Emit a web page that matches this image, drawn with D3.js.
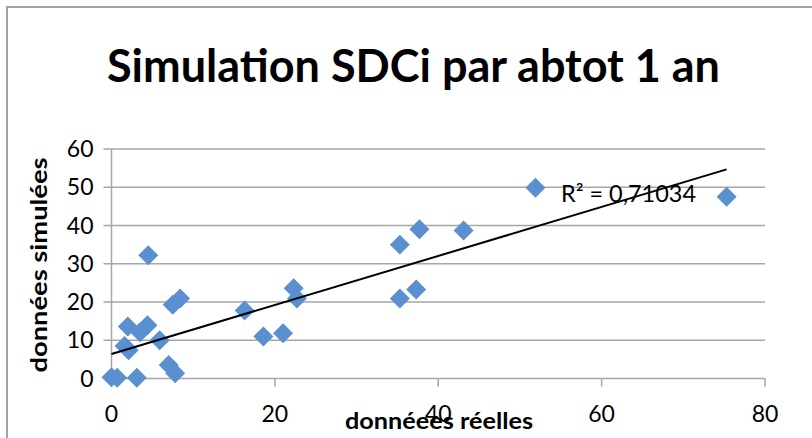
<!DOCTYPE html>
<html>
<head>
<meta charset="utf-8">
<script src="https://cdn.jsdelivr.net/npm/d3@7"></script>
<style>
  body { margin: 0; background: #fff; }
  text { font-family: Lato, "Open Sans", sans-serif; fill: #000; }
</style>
</head>
<body>
<div id="chart"></div>
<script>
// values
var realValues = [0, 0.7, 3.1, 4.5, 2.0, 4.4, 3.5, 1.6, 2.1, 5.9, 7.0, 7.8, 7.5, 8.4,
                  16.3, 18.6, 21.0, 22.3, 22.7, 35.3, 37.7, 43.1, 35.3, 37.3, 51.9, 75.3];
var simValues  = [0.3, 0.2, 0.2, 32.2, 13.6, 13.9, 12.1, 8.5, 7.4, 10.0, 3.5, 1.4, 19.3, 20.9,
                  17.8, 11.0, 11.8, 23.6, 20.9, 35.0, 39.0, 38.7, 20.9, 23.3, 49.9, 47.5];
var xTicks = [0, 20, 40, 60, 80];
var yTicks = [0, 10, 20, 30, 40, 50, 60];
var trendSlope = 0.641, trendIntercept = 6.4;
var trendLabel = "R² = 0,71034";
var titleText = "Simulation SDCi par abtot 1 an";
var xTitle = "donnéees réelles";
var yTitle = "données simulées";

var width = 812, height = 438;

var svg = d3.select("#chart").append("svg")
    .attr("width", width)
    .attr("height", height);

// chart border (only top and left visible)
svg.append("path")
    .attr("d", "M7,438 V7 H812")
    .attr("fill", "none")
    .attr("stroke", "#a3a3a3")
    .attr("stroke-width", 2);

var x = d3.scaleLinear().domain([0, 80]).range([111.5, 765]);
var y = d3.scaleLinear().domain([0, 60]).range([378.5, 149]);

// gridlines
svg.append("g")
  .selectAll("line")
  .data(yTicks)
  .enter().append("line")
    .attr("x1", x(0) - 8)
    .attr("x2", x(80))
    .attr("y1", function(d) { return y(d); })
    .attr("y2", function(d) { return y(d); })
    .attr("stroke", "#a6a6a6")
    .attr("stroke-width", 1.5);

// y axis line
svg.append("line")
    .attr("x1", x(0)).attr("x2", x(0))
    .attr("y1", y(0)).attr("y2", y(60))
    .attr("stroke", "#a6a6a6")
    .attr("stroke-width", 1.5);

// x axis ticks
svg.append("g")
  .selectAll("line")
  .data(xTicks)
  .enter().append("line")
    .attr("x1", function(d) { return x(d); })
    .attr("x2", function(d) { return x(d); })
    .attr("y1", y(0))
    .attr("y2", y(0) + 8)
    .attr("stroke", "#a6a6a6")
    .attr("stroke-width", 1.5);

// tick labels
svg.append("g")
  .selectAll("text")
  .data(yTicks)
  .enter().append("text")
    .attr("x", x(0) - 18)
    .attr("y", function(d) { return y(d) + 8; })
    .attr("text-anchor", "end")
    .style("font-size", "23px")
    .text(function(d) { return d; });

svg.append("g")
  .selectAll("text")
  .data(xTicks)
  .enter().append("text")
    .attr("x", function(d) { return x(d); })
    .attr("y", 422)
    .attr("text-anchor", "middle")
    .style("font-size", "23px")
    .text(function(d) { return d; });

// points
var points = realValues.map(function(v, i) { return {x: v, y: simValues[i]}; });
svg.append("g")
  .selectAll("path")
  .data(points)
  .enter().append("path")
    .attr("d", d3.symbol().type(d3.symbolSquare).size(200))
    .attr("transform", function(d) { return "translate(" + x(d.x) + "," + y(d.y) + ") rotate(45)"; })
    .attr("fill", "#5a8fd0");

// linear trendline
var xMin = d3.min(realValues), xMax = d3.max(realValues);
svg.append("line")
    .attr("x1", x(xMin)).attr("y1", y(trendIntercept + trendSlope * xMin))
    .attr("x2", x(xMax)).attr("y2", y(trendIntercept + trendSlope * xMax))
    .attr("stroke", "#000")
    .attr("stroke-width", 2);

svg.append("text")
    .attr("x", 561)
    .attr("y", 202)
    .style("font-size", "23px")
    .attr("textLength", 135)
    .attr("lengthAdjust", "spacingAndGlyphs")
    .text(trendLabel);

// titles
svg.append("text")
    .attr("x", 413.5)
    .attr("y", 82)
    .attr("text-anchor", "middle")
    .style("font-size", "46px")
    .style("font-weight", "bold")
    .attr("textLength", 613)
    .attr("lengthAdjust", "spacingAndGlyphs")
    .text(titleText);

svg.append("text")
    .attr("x", 439)
    .attr("y", 429)
    .attr("text-anchor", "middle")
    .style("font-size", "22px")
    .style("font-weight", "bold")
    .attr("textLength", 188)
    .attr("lengthAdjust", "spacingAndGlyphs")
    .text(xTitle);

svg.append("text")
    .attr("transform", "translate(47,265) rotate(-90)")
    .attr("text-anchor", "middle")
    .style("font-size", "22px")
    .style("font-weight", "bold")
    .attr("textLength", 215)
    .attr("lengthAdjust", "spacingAndGlyphs")
    .text(yTitle);
</script>
</body>
</html>
